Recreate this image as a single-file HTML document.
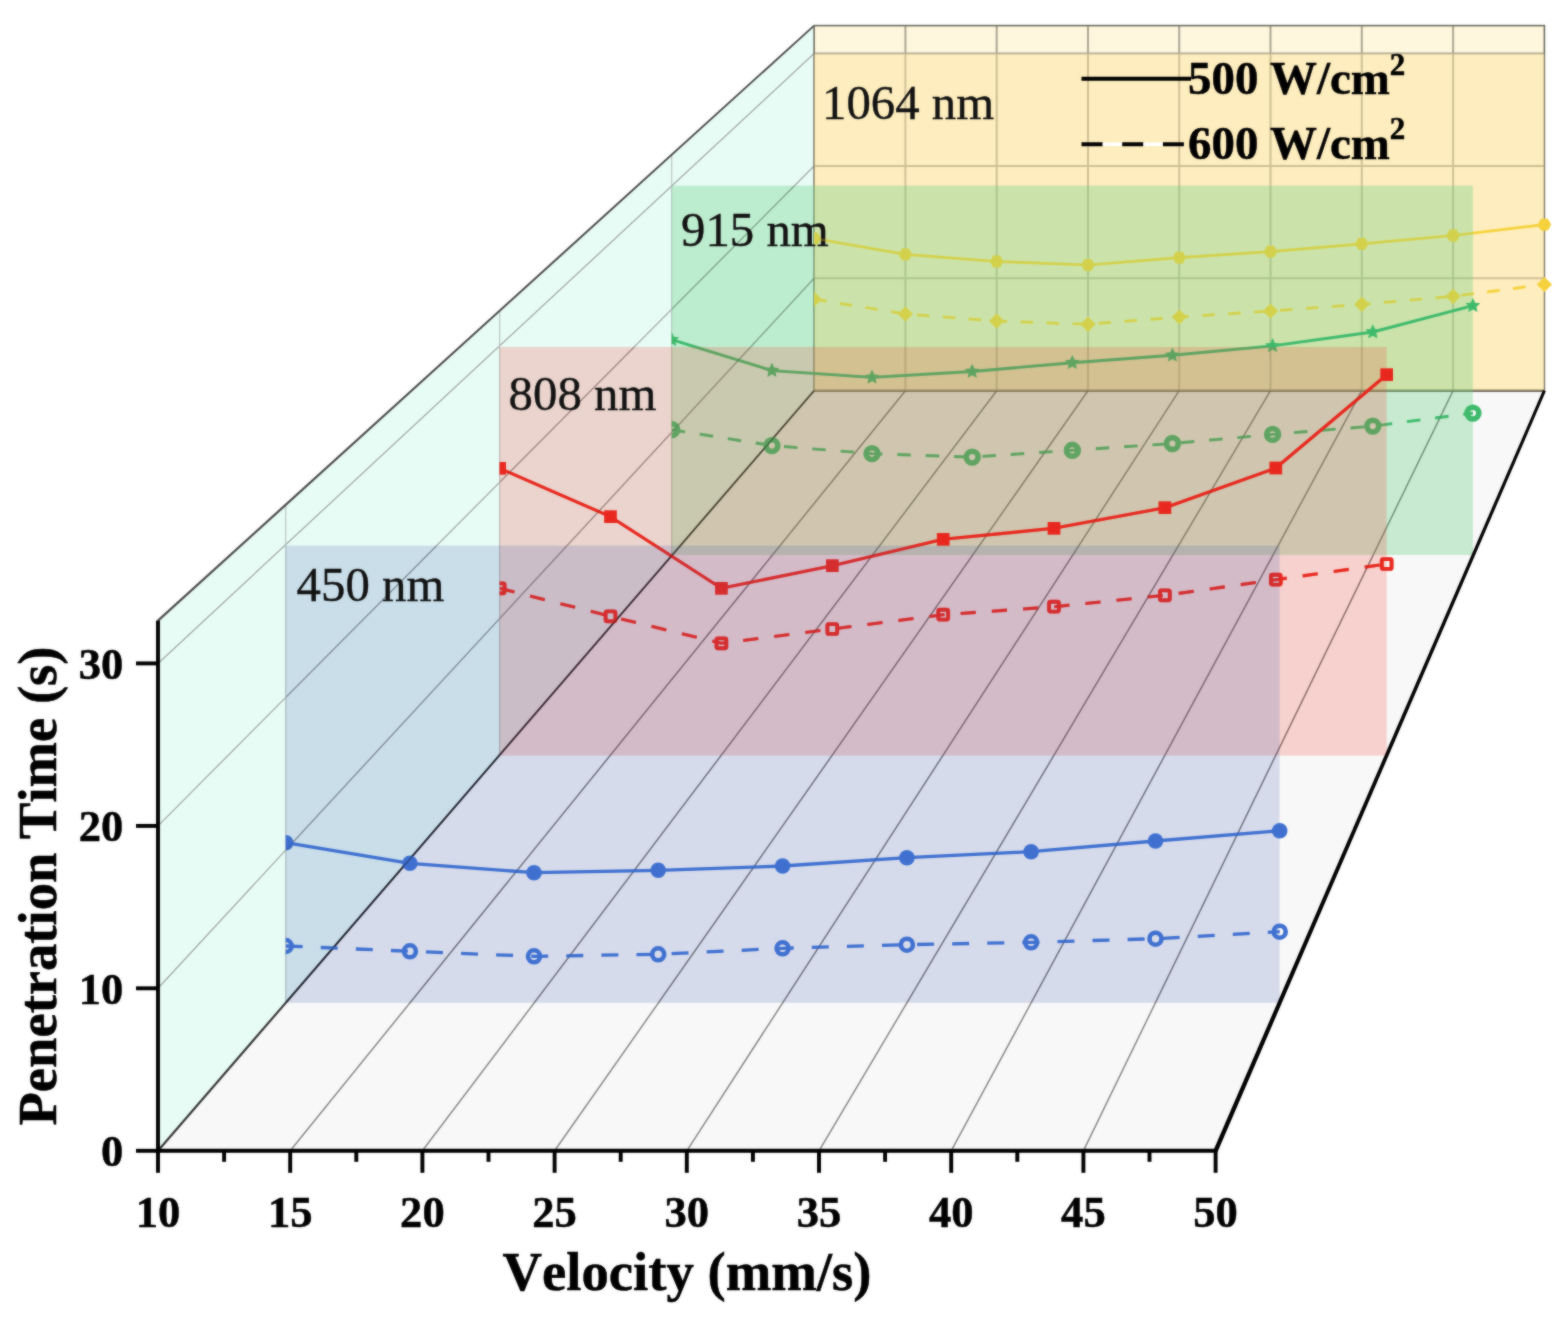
<!DOCTYPE html>
<html lang="en">
<head>
<meta charset="utf-8">
<title>Penetration Time vs Velocity</title>
<style>html,body{margin:0;padding:0;background:#fff;}body{width:1560px;height:1322px;overflow:hidden;}svg{display:block;}text{font-kerning:none;}</style>
</head>
<body>
<svg width="1560" height="1322" viewBox="0 0 1560 1322">
<defs><filter id="soft" x="0" y="0" width="100%" height="100%" filterUnits="objectBoundingBox" color-interpolation-filters="sRGB"><feGaussianBlur in="SourceGraphic" stdDeviation="1" result="b"/><feComposite in="SourceGraphic" in2="b" operator="arithmetic" k1="0" k2="0.5" k3="0.5" k4="0"/></filter></defs>
<g filter="url(#soft)">
<rect width="1560" height="1322" fill="#fff"/>
<polygon points="158.0,1150.8 158.0,620.6 814.1,25.6 814.1,390.7" fill="#e8fcf6"/>
<polygon points="158.0,1150.8 1215.6,1150.8 1544.4,390.7 814.1,390.7" fill="#f8f8f8"/>
<rect x="814.1" y="25.6" width="730.3000000000001" height="365.09999999999997" fill="#fff6de"/>
<g stroke="#8a8a8a" stroke-width="1.5" fill="none">
<line x1="290.2" y1="1150.8" x2="905.4" y2="390.7"/>
<line x1="422.4" y1="1150.8" x2="996.7" y2="390.7"/>
<line x1="554.6" y1="1150.8" x2="1088.0" y2="390.7"/>
<line x1="686.8" y1="1150.8" x2="1179.2" y2="390.7"/>
<line x1="819.0" y1="1150.8" x2="1270.5" y2="390.7"/>
<line x1="951.2" y1="1150.8" x2="1361.8" y2="390.7"/>
<line x1="1083.4" y1="1150.8" x2="1453.1" y2="390.7"/>
</g>
<g stroke="#a3a9a7" stroke-width="1.3" fill="none">
<line x1="158.0" y1="988.3" x2="814.1" y2="278.3"/>
<line x1="158.0" y1="825.9" x2="814.1" y2="166.0"/>
<line x1="158.0" y1="663.4" x2="814.1" y2="53.6"/>
</g>
<g stroke="#b9c6c3" stroke-width="1.2" fill="none">
<line x1="285.7" y1="504.8" x2="285.7" y2="1002.8"/>
<line x1="499.6" y1="310.8" x2="499.6" y2="755.6"/>
<line x1="671.7" y1="154.7" x2="671.7" y2="555.0"/>
</g>
<g stroke="#aaa693" stroke-width="2" fill="none">
<line x1="905.4" y1="25.6" x2="905.4" y2="390.7"/>
<line x1="996.7" y1="25.6" x2="996.7" y2="390.7"/>
<line x1="1088.0" y1="25.6" x2="1088.0" y2="390.7"/>
<line x1="1179.2" y1="25.6" x2="1179.2" y2="390.7"/>
<line x1="1270.5" y1="25.6" x2="1270.5" y2="390.7"/>
<line x1="1361.8" y1="25.6" x2="1361.8" y2="390.7"/>
<line x1="1453.1" y1="25.6" x2="1453.1" y2="390.7"/>
<line x1="814.1" y1="278.3" x2="1544.4" y2="278.3"/>
<line x1="814.1" y1="166.0" x2="1544.4" y2="166.0"/>
<line x1="814.1" y1="53.6" x2="1544.4" y2="53.6"/>
</g>
<polygon points="158.81,621.49 814.74,26.30 813.46,24.90 157.19,619.71" fill="#505050"/>
<polygon points="158.87,1151.55 814.74,391.26 813.46,390.14 157.13,1150.05" fill="#3c3c3c"/>
<rect x="814.1" y="25.6" width="730.3000000000001" height="365.09999999999997" fill="none" stroke="#6b6b60" stroke-width="1.6"/>
<line x1="814.1" y1="390.7" x2="1544.4" y2="390.7" stroke="#5a5548" stroke-width="2.2"/>
<rect x="814.1" y="53.6" width="730.3" height="337.1" fill="rgba(252,226,150,0.45)"/>
<clipPath id="cp-yellow"><rect x="814.1" y="0" width="1560" height="1322"/></clipPath>
<g clip-path="url(#cp-yellow)">
<polyline points="814.1,238.5 905.4,254.4 996.7,261.5 1088.0,265.0 1179.3,257.6 1270.5,251.7 1361.8,243.8 1453.1,235.5 1544.4,224.6" fill="none" stroke="#f5d23c" stroke-width="2.7" stroke-linejoin="round"/>
<polyline points="814.1,299.2 905.4,314.0 996.7,321.1 1088.0,324.3 1179.3,317.0 1270.5,311.0 1361.8,304.3 1453.1,296.3 1544.4,284.5" fill="none" stroke="#f5d23c" stroke-width="2.7" stroke-dasharray="12.5 13.5"/>
<polygon points="820.9,238.5 817.5,244.4 810.7,244.4 807.3,238.5 810.7,232.6 817.5,232.6" fill="#f5d23c"/>
<polygon points="912.2,254.4 908.8,260.3 902.0,260.3 898.6,254.4 902.0,248.5 908.8,248.5" fill="#f5d23c"/>
<polygon points="1003.5,261.5 1000.1,267.4 993.3,267.4 989.9,261.5 993.3,255.6 1000.1,255.6" fill="#f5d23c"/>
<polygon points="1094.8,265.0 1091.4,270.9 1084.6,270.9 1081.2,265.0 1084.6,259.1 1091.4,259.1" fill="#f5d23c"/>
<polygon points="1186.1,257.6 1182.7,263.5 1175.9,263.5 1172.5,257.6 1175.9,251.7 1182.7,251.7" fill="#f5d23c"/>
<polygon points="1277.3,251.7 1273.9,257.6 1267.1,257.6 1263.7,251.7 1267.1,245.8 1273.9,245.8" fill="#f5d23c"/>
<polygon points="1368.6,243.8 1365.2,249.7 1358.4,249.7 1355.0,243.8 1358.4,237.9 1365.2,237.9" fill="#f5d23c"/>
<polygon points="1459.9,235.5 1456.5,241.4 1449.7,241.4 1446.3,235.5 1449.7,229.6 1456.5,229.6" fill="#f5d23c"/>
<polygon points="1551.2,224.6 1547.8,230.5 1541.0,230.5 1537.6,224.6 1541.0,218.7 1547.8,218.7" fill="#f5d23c"/>
<polygon points="806.5,299.2 814.1,291.6 821.7,299.2 814.1,306.8" fill="#f5d23c"/>
<polygon points="897.8,314.0 905.4,306.4 913.0,314.0 905.4,321.6" fill="#f5d23c"/>
<polygon points="989.1,321.1 996.7,313.5 1004.3,321.1 996.7,328.7" fill="#f5d23c"/>
<polygon points="1080.4,324.3 1088.0,316.7 1095.6,324.3 1088.0,331.9" fill="#f5d23c"/>
<polygon points="1171.7,317.0 1179.3,309.4 1186.9,317.0 1179.3,324.6" fill="#f5d23c"/>
<polygon points="1262.9,311.0 1270.5,303.4 1278.1,311.0 1270.5,318.6" fill="#f5d23c"/>
<polygon points="1354.2,304.3 1361.8,296.7 1369.4,304.3 1361.8,311.9" fill="#f5d23c"/>
<polygon points="1445.5,296.3 1453.1,288.7 1460.7,296.3 1453.1,303.9" fill="#f5d23c"/>
<polygon points="1536.8,284.5 1544.4,276.9 1552.0,284.5 1544.4,292.1" fill="#f5d23c"/>
</g>
<text x="822.0" y="118.6" font-family="'Liberation Serif', serif" font-size="48.8" fill="#111" stroke="#111" stroke-width="0.4">1064 nm</text>
<rect x="671.7" y="185.6" width="801.2" height="369.4" fill="rgba(105,208,132,0.34)"/>
<clipPath id="cp-green"><rect x="671.7" y="0" width="1560" height="1322"/></clipPath>
<g clip-path="url(#cp-green)">
<polyline points="671.7,339.7 771.9,370.6 872.0,377.4 972.2,371.5 1072.3,362.7 1172.4,355.3 1272.6,345.9 1372.8,332.0 1472.9,305.7" fill="none" stroke="#3fba6c" stroke-width="2.9" stroke-linejoin="round"/>
<polyline points="671.7,429.7 771.9,445.6 872.0,453.6 972.2,457.1 1072.3,450.3 1172.4,443.5 1272.6,434.4 1372.8,426.1 1472.9,413.1" fill="none" stroke="#3fba6c" stroke-width="2.9" stroke-dasharray="13.5 14.9"/>
<polygon points="671.7,331.9 673.9,336.7 679.1,337.3 675.2,340.8 676.3,346.0 671.7,343.4 667.1,346.0 668.2,340.8 664.3,337.3 669.5,336.7" fill="#3fba6c"/>
<polygon points="771.9,362.8 774.1,367.6 779.3,368.2 775.4,371.7 776.5,376.9 771.9,374.3 767.3,376.9 768.4,371.7 764.5,368.2 769.7,367.6" fill="#3fba6c"/>
<polygon points="872.0,369.6 874.2,374.4 879.4,375.0 875.5,378.5 876.6,383.7 872.0,381.1 867.4,383.7 868.5,378.5 864.6,375.0 869.8,374.4" fill="#3fba6c"/>
<polygon points="972.2,363.7 974.4,368.5 979.6,369.1 975.7,372.6 976.8,377.8 972.2,375.2 967.6,377.8 968.7,372.6 964.8,369.1 970.0,368.5" fill="#3fba6c"/>
<polygon points="1072.3,354.9 1074.5,359.7 1079.7,360.3 1075.8,363.8 1076.9,369.0 1072.3,366.4 1067.7,369.0 1068.8,363.8 1064.9,360.3 1070.1,359.7" fill="#3fba6c"/>
<polygon points="1172.4,347.5 1174.6,352.3 1179.8,352.9 1175.9,356.4 1177.0,361.6 1172.4,359.0 1167.8,361.6 1168.9,356.4 1165.0,352.9 1170.2,352.3" fill="#3fba6c"/>
<polygon points="1272.6,338.1 1274.8,342.9 1280.0,343.5 1276.1,347.0 1277.2,352.2 1272.6,349.6 1268.0,352.2 1269.1,347.0 1265.2,343.5 1270.4,342.9" fill="#3fba6c"/>
<polygon points="1372.8,324.2 1375.0,329.0 1380.2,329.6 1376.3,333.1 1377.4,338.3 1372.8,335.7 1368.2,338.3 1369.3,333.1 1365.4,329.6 1370.6,329.0" fill="#3fba6c"/>
<polygon points="1472.9,297.9 1475.1,302.7 1480.3,303.3 1476.4,306.8 1477.5,312.0 1472.9,309.4 1468.3,312.0 1469.4,306.8 1465.5,303.3 1470.7,302.7" fill="#3fba6c"/>
<circle cx="671.7" cy="429.7" r="5.90" fill="none" stroke="#3fba6c" stroke-width="5.60"/>
<circle cx="771.9" cy="445.6" r="5.90" fill="none" stroke="#3fba6c" stroke-width="5.60"/>
<circle cx="872.0" cy="453.6" r="5.90" fill="none" stroke="#3fba6c" stroke-width="5.60"/>
<circle cx="972.2" cy="457.1" r="5.90" fill="none" stroke="#3fba6c" stroke-width="5.60"/>
<circle cx="1072.3" cy="450.3" r="5.90" fill="none" stroke="#3fba6c" stroke-width="5.60"/>
<circle cx="1172.4" cy="443.5" r="5.90" fill="none" stroke="#3fba6c" stroke-width="5.60"/>
<circle cx="1272.6" cy="434.4" r="5.90" fill="none" stroke="#3fba6c" stroke-width="5.60"/>
<circle cx="1372.8" cy="426.1" r="5.90" fill="none" stroke="#3fba6c" stroke-width="5.60"/>
<circle cx="1472.9" cy="413.1" r="5.90" fill="none" stroke="#3fba6c" stroke-width="5.60"/>
</g>
<text x="681.0" y="245.8" font-family="'Liberation Serif', serif" font-size="48.8" fill="#111" stroke="#111" stroke-width="0.4">915 nm</text>
<rect x="499.6" y="346.9" width="887.1" height="408.7" fill="rgba(242,66,50,0.21)"/>
<clipPath id="cp-red"><rect x="499.6" y="0" width="1560" height="1322"/></clipPath>
<g clip-path="url(#cp-red)">
<polyline points="499.7,468.3 610.5,516.7 721.4,588.3 832.3,565.7 943.2,539.3 1054.0,528.3 1164.9,507.7 1275.8,468.0 1386.7,374.7" fill="none" stroke="#e8281e" stroke-width="3.1" stroke-linejoin="round"/>
<polyline points="499.7,588.3 610.5,616.3 721.4,643.3 832.3,629.0 943.2,614.7 1054.0,606.7 1164.9,595.3 1275.8,579.7 1386.7,564.0" fill="none" stroke="#e8281e" stroke-width="3.1" stroke-dasharray="15.2 16.1"/>
<rect x="493.40" y="462.00" width="12.60" height="12.60" fill="#e8281e"/>
<rect x="604.20" y="510.40" width="12.60" height="12.60" fill="#e8281e"/>
<rect x="715.10" y="582.00" width="12.60" height="12.60" fill="#e8281e"/>
<rect x="826.00" y="559.40" width="12.60" height="12.60" fill="#e8281e"/>
<rect x="936.90" y="533.00" width="12.60" height="12.60" fill="#e8281e"/>
<rect x="1047.70" y="522.00" width="12.60" height="12.60" fill="#e8281e"/>
<rect x="1158.60" y="501.40" width="12.60" height="12.60" fill="#e8281e"/>
<rect x="1269.50" y="461.70" width="12.60" height="12.60" fill="#e8281e"/>
<rect x="1380.40" y="368.40" width="12.60" height="12.60" fill="#e8281e"/>
<rect x="494.80" y="583.40" width="9.80" height="9.80" rx="1.5" fill="none" stroke="#e8281e" stroke-width="3.90"/>
<rect x="605.60" y="611.40" width="9.80" height="9.80" rx="1.5" fill="none" stroke="#e8281e" stroke-width="3.90"/>
<rect x="716.50" y="638.40" width="9.80" height="9.80" rx="1.5" fill="none" stroke="#e8281e" stroke-width="3.90"/>
<rect x="827.40" y="624.10" width="9.80" height="9.80" rx="1.5" fill="none" stroke="#e8281e" stroke-width="3.90"/>
<rect x="938.30" y="609.80" width="9.80" height="9.80" rx="1.5" fill="none" stroke="#e8281e" stroke-width="3.90"/>
<rect x="1049.10" y="601.80" width="9.80" height="9.80" rx="1.5" fill="none" stroke="#e8281e" stroke-width="3.90"/>
<rect x="1160.00" y="590.40" width="9.80" height="9.80" rx="1.5" fill="none" stroke="#e8281e" stroke-width="3.90"/>
<rect x="1270.90" y="574.80" width="9.80" height="9.80" rx="1.5" fill="none" stroke="#e8281e" stroke-width="3.90"/>
<rect x="1381.80" y="559.10" width="9.80" height="9.80" rx="1.5" fill="none" stroke="#e8281e" stroke-width="3.90"/>
</g>
<text x="508.6" y="409.6" font-family="'Liberation Serif', serif" font-size="48.8" fill="#111" stroke="#111" stroke-width="0.4">808 nm</text>
<rect x="285.7" y="545.6" width="993.9" height="457.2" fill="rgba(60,90,175,0.18)"/>
<clipPath id="cp-blue"><rect x="285.7" y="0" width="1560" height="1322"/></clipPath>
<g clip-path="url(#cp-blue)">
<polyline points="285.7,842.7 409.9,863.3 534.0,872.7 658.2,870.3 782.6,866.0 906.9,857.7 1031.1,851.7 1155.5,841.0 1279.7,830.7" fill="none" stroke="#3f70d0" stroke-width="3.3" stroke-linejoin="round"/>
<polyline points="285.7,946.0 409.9,951.3 534.0,956.3 658.2,954.3 782.6,948.3 906.9,944.7 1031.1,942.3 1155.5,938.7 1279.7,931.7" fill="none" stroke="#3f70d0" stroke-width="3.3" stroke-dasharray="17 18.1"/>
<circle cx="285.7" cy="842.7" r="7.80" fill="#3f70d0"/>
<circle cx="409.9" cy="863.3" r="7.80" fill="#3f70d0"/>
<circle cx="534.0" cy="872.7" r="7.80" fill="#3f70d0"/>
<circle cx="658.2" cy="870.3" r="7.80" fill="#3f70d0"/>
<circle cx="782.6" cy="866.0" r="7.80" fill="#3f70d0"/>
<circle cx="906.9" cy="857.7" r="7.80" fill="#3f70d0"/>
<circle cx="1031.1" cy="851.7" r="7.80" fill="#3f70d0"/>
<circle cx="1155.5" cy="841.0" r="7.80" fill="#3f70d0"/>
<circle cx="1279.7" cy="830.7" r="7.80" fill="#3f70d0"/>
<circle cx="285.7" cy="946.0" r="6.00" fill="none" stroke="#3f70d0" stroke-width="4.60"/>
<circle cx="409.9" cy="951.3" r="6.00" fill="none" stroke="#3f70d0" stroke-width="4.60"/>
<circle cx="534.0" cy="956.3" r="6.00" fill="none" stroke="#3f70d0" stroke-width="4.60"/>
<circle cx="658.2" cy="954.3" r="6.00" fill="none" stroke="#3f70d0" stroke-width="4.60"/>
<circle cx="782.6" cy="948.3" r="6.00" fill="none" stroke="#3f70d0" stroke-width="4.60"/>
<circle cx="906.9" cy="944.7" r="6.00" fill="none" stroke="#3f70d0" stroke-width="4.60"/>
<circle cx="1031.1" cy="942.3" r="6.00" fill="none" stroke="#3f70d0" stroke-width="4.60"/>
<circle cx="1155.5" cy="938.7" r="6.00" fill="none" stroke="#3f70d0" stroke-width="4.60"/>
<circle cx="1279.7" cy="931.7" r="6.00" fill="none" stroke="#3f70d0" stroke-width="4.60"/>
</g>
<text x="296.6" y="601.4" font-family="'Liberation Serif', serif" font-size="48.8" fill="#111" stroke="#111" stroke-width="0.4">450 nm</text>
<g clip-path="url(#cp-yellow)" opacity="0.3">
<polyline points="814.1,238.5 905.4,254.4 996.7,261.5 1088.0,265.0 1179.3,257.6 1270.5,251.7 1361.8,243.8 1453.1,235.5 1544.4,224.6" fill="none" stroke="#f5d23c" stroke-width="2.7" stroke-linejoin="round"/>
<polyline points="814.1,299.2 905.4,314.0 996.7,321.1 1088.0,324.3 1179.3,317.0 1270.5,311.0 1361.8,304.3 1453.1,296.3 1544.4,284.5" fill="none" stroke="#f5d23c" stroke-width="2.7" stroke-dasharray="12.5 13.5"/>
<polygon points="820.9,238.5 817.5,244.4 810.7,244.4 807.3,238.5 810.7,232.6 817.5,232.6" fill="#f5d23c"/>
<polygon points="912.2,254.4 908.8,260.3 902.0,260.3 898.6,254.4 902.0,248.5 908.8,248.5" fill="#f5d23c"/>
<polygon points="1003.5,261.5 1000.1,267.4 993.3,267.4 989.9,261.5 993.3,255.6 1000.1,255.6" fill="#f5d23c"/>
<polygon points="1094.8,265.0 1091.4,270.9 1084.6,270.9 1081.2,265.0 1084.6,259.1 1091.4,259.1" fill="#f5d23c"/>
<polygon points="1186.1,257.6 1182.7,263.5 1175.9,263.5 1172.5,257.6 1175.9,251.7 1182.7,251.7" fill="#f5d23c"/>
<polygon points="1277.3,251.7 1273.9,257.6 1267.1,257.6 1263.7,251.7 1267.1,245.8 1273.9,245.8" fill="#f5d23c"/>
<polygon points="1368.6,243.8 1365.2,249.7 1358.4,249.7 1355.0,243.8 1358.4,237.9 1365.2,237.9" fill="#f5d23c"/>
<polygon points="1459.9,235.5 1456.5,241.4 1449.7,241.4 1446.3,235.5 1449.7,229.6 1456.5,229.6" fill="#f5d23c"/>
<polygon points="1551.2,224.6 1547.8,230.5 1541.0,230.5 1537.6,224.6 1541.0,218.7 1547.8,218.7" fill="#f5d23c"/>
<polygon points="806.5,299.2 814.1,291.6 821.7,299.2 814.1,306.8" fill="#f5d23c"/>
<polygon points="897.8,314.0 905.4,306.4 913.0,314.0 905.4,321.6" fill="#f5d23c"/>
<polygon points="989.1,321.1 996.7,313.5 1004.3,321.1 996.7,328.7" fill="#f5d23c"/>
<polygon points="1080.4,324.3 1088.0,316.7 1095.6,324.3 1088.0,331.9" fill="#f5d23c"/>
<polygon points="1171.7,317.0 1179.3,309.4 1186.9,317.0 1179.3,324.6" fill="#f5d23c"/>
<polygon points="1262.9,311.0 1270.5,303.4 1278.1,311.0 1270.5,318.6" fill="#f5d23c"/>
<polygon points="1354.2,304.3 1361.8,296.7 1369.4,304.3 1361.8,311.9" fill="#f5d23c"/>
<polygon points="1445.5,296.3 1453.1,288.7 1460.7,296.3 1453.1,303.9" fill="#f5d23c"/>
<polygon points="1536.8,284.5 1544.4,276.9 1552.0,284.5 1544.4,292.1" fill="#f5d23c"/>
</g>
<g clip-path="url(#cp-green)" opacity="0.12">
<polyline points="671.7,339.7 771.9,370.6 872.0,377.4 972.2,371.5 1072.3,362.7 1172.4,355.3 1272.6,345.9 1372.8,332.0 1472.9,305.7" fill="none" stroke="#3fba6c" stroke-width="2.9" stroke-linejoin="round"/>
<polyline points="671.7,429.7 771.9,445.6 872.0,453.6 972.2,457.1 1072.3,450.3 1172.4,443.5 1272.6,434.4 1372.8,426.1 1472.9,413.1" fill="none" stroke="#3fba6c" stroke-width="2.9" stroke-dasharray="13.5 14.9"/>
<polygon points="671.7,331.9 673.9,336.7 679.1,337.3 675.2,340.8 676.3,346.0 671.7,343.4 667.1,346.0 668.2,340.8 664.3,337.3 669.5,336.7" fill="#3fba6c"/>
<polygon points="771.9,362.8 774.1,367.6 779.3,368.2 775.4,371.7 776.5,376.9 771.9,374.3 767.3,376.9 768.4,371.7 764.5,368.2 769.7,367.6" fill="#3fba6c"/>
<polygon points="872.0,369.6 874.2,374.4 879.4,375.0 875.5,378.5 876.6,383.7 872.0,381.1 867.4,383.7 868.5,378.5 864.6,375.0 869.8,374.4" fill="#3fba6c"/>
<polygon points="972.2,363.7 974.4,368.5 979.6,369.1 975.7,372.6 976.8,377.8 972.2,375.2 967.6,377.8 968.7,372.6 964.8,369.1 970.0,368.5" fill="#3fba6c"/>
<polygon points="1072.3,354.9 1074.5,359.7 1079.7,360.3 1075.8,363.8 1076.9,369.0 1072.3,366.4 1067.7,369.0 1068.8,363.8 1064.9,360.3 1070.1,359.7" fill="#3fba6c"/>
<polygon points="1172.4,347.5 1174.6,352.3 1179.8,352.9 1175.9,356.4 1177.0,361.6 1172.4,359.0 1167.8,361.6 1168.9,356.4 1165.0,352.9 1170.2,352.3" fill="#3fba6c"/>
<polygon points="1272.6,338.1 1274.8,342.9 1280.0,343.5 1276.1,347.0 1277.2,352.2 1272.6,349.6 1268.0,352.2 1269.1,347.0 1265.2,343.5 1270.4,342.9" fill="#3fba6c"/>
<polygon points="1372.8,324.2 1375.0,329.0 1380.2,329.6 1376.3,333.1 1377.4,338.3 1372.8,335.7 1368.2,338.3 1369.3,333.1 1365.4,329.6 1370.6,329.0" fill="#3fba6c"/>
<polygon points="1472.9,297.9 1475.1,302.7 1480.3,303.3 1476.4,306.8 1477.5,312.0 1472.9,309.4 1468.3,312.0 1469.4,306.8 1465.5,303.3 1470.7,302.7" fill="#3fba6c"/>
<circle cx="671.7" cy="429.7" r="5.90" fill="none" stroke="#3fba6c" stroke-width="5.60"/>
<circle cx="771.9" cy="445.6" r="5.90" fill="none" stroke="#3fba6c" stroke-width="5.60"/>
<circle cx="872.0" cy="453.6" r="5.90" fill="none" stroke="#3fba6c" stroke-width="5.60"/>
<circle cx="972.2" cy="457.1" r="5.90" fill="none" stroke="#3fba6c" stroke-width="5.60"/>
<circle cx="1072.3" cy="450.3" r="5.90" fill="none" stroke="#3fba6c" stroke-width="5.60"/>
<circle cx="1172.4" cy="443.5" r="5.90" fill="none" stroke="#3fba6c" stroke-width="5.60"/>
<circle cx="1272.6" cy="434.4" r="5.90" fill="none" stroke="#3fba6c" stroke-width="5.60"/>
<circle cx="1372.8" cy="426.1" r="5.90" fill="none" stroke="#3fba6c" stroke-width="5.60"/>
<circle cx="1472.9" cy="413.1" r="5.90" fill="none" stroke="#3fba6c" stroke-width="5.60"/>
</g>
<g clip-path="url(#cp-red)" opacity="0.4">
<polyline points="499.7,468.3 610.5,516.7 721.4,588.3 832.3,565.7 943.2,539.3 1054.0,528.3 1164.9,507.7 1275.8,468.0 1386.7,374.7" fill="none" stroke="#e8281e" stroke-width="3.1" stroke-linejoin="round"/>
<polyline points="499.7,588.3 610.5,616.3 721.4,643.3 832.3,629.0 943.2,614.7 1054.0,606.7 1164.9,595.3 1275.8,579.7 1386.7,564.0" fill="none" stroke="#e8281e" stroke-width="3.1" stroke-dasharray="15.2 16.1"/>
<rect x="493.40" y="462.00" width="12.60" height="12.60" fill="#e8281e"/>
<rect x="604.20" y="510.40" width="12.60" height="12.60" fill="#e8281e"/>
<rect x="715.10" y="582.00" width="12.60" height="12.60" fill="#e8281e"/>
<rect x="826.00" y="559.40" width="12.60" height="12.60" fill="#e8281e"/>
<rect x="936.90" y="533.00" width="12.60" height="12.60" fill="#e8281e"/>
<rect x="1047.70" y="522.00" width="12.60" height="12.60" fill="#e8281e"/>
<rect x="1158.60" y="501.40" width="12.60" height="12.60" fill="#e8281e"/>
<rect x="1269.50" y="461.70" width="12.60" height="12.60" fill="#e8281e"/>
<rect x="1380.40" y="368.40" width="12.60" height="12.60" fill="#e8281e"/>
<rect x="494.80" y="583.40" width="9.80" height="9.80" rx="1.5" fill="none" stroke="#e8281e" stroke-width="3.90"/>
<rect x="605.60" y="611.40" width="9.80" height="9.80" rx="1.5" fill="none" stroke="#e8281e" stroke-width="3.90"/>
<rect x="716.50" y="638.40" width="9.80" height="9.80" rx="1.5" fill="none" stroke="#e8281e" stroke-width="3.90"/>
<rect x="827.40" y="624.10" width="9.80" height="9.80" rx="1.5" fill="none" stroke="#e8281e" stroke-width="3.90"/>
<rect x="938.30" y="609.80" width="9.80" height="9.80" rx="1.5" fill="none" stroke="#e8281e" stroke-width="3.90"/>
<rect x="1049.10" y="601.80" width="9.80" height="9.80" rx="1.5" fill="none" stroke="#e8281e" stroke-width="3.90"/>
<rect x="1160.00" y="590.40" width="9.80" height="9.80" rx="1.5" fill="none" stroke="#e8281e" stroke-width="3.90"/>
<rect x="1270.90" y="574.80" width="9.80" height="9.80" rx="1.5" fill="none" stroke="#e8281e" stroke-width="3.90"/>
<rect x="1381.80" y="559.10" width="9.80" height="9.80" rx="1.5" fill="none" stroke="#e8281e" stroke-width="3.90"/>
</g>
<clipPath id="cp-planes">
<rect x="814.1" y="53.6" width="730.3" height="337.1"/>
<rect x="671.7" y="185.6" width="801.2" height="369.4"/>
<rect x="499.6" y="346.9" width="887.1" height="408.7"/>
<rect x="285.7" y="545.6" width="993.9" height="457.2"/>
</clipPath>
<g clip-path="url(#cp-planes)" stroke="#000" stroke-opacity="0.10" stroke-width="1.4" fill="none">
<line x1="290.2" y1="1150.8" x2="905.4" y2="390.7"/>
<line x1="422.4" y1="1150.8" x2="996.7" y2="390.7"/>
<line x1="554.6" y1="1150.8" x2="1088.0" y2="390.7"/>
<line x1="686.8" y1="1150.8" x2="1179.2" y2="390.7"/>
<line x1="819.0" y1="1150.8" x2="1270.5" y2="390.7"/>
<line x1="951.2" y1="1150.8" x2="1361.8" y2="390.7"/>
<line x1="1083.4" y1="1150.8" x2="1453.1" y2="390.7"/>
<line x1="158.0" y1="988.3" x2="814.1" y2="278.3"/>
<line x1="158.0" y1="825.9" x2="814.1" y2="166.0"/>
<line x1="158.0" y1="663.4" x2="814.1" y2="53.6"/>
<line x1="158.0" y1="1150.8" x2="814.1" y2="390.7" stroke-width="1.8" stroke-opacity="0.3"/>
</g>
<polygon points="1217.62,1151.67 1545.78,391.30 1543.02,390.10 1213.58,1149.93" fill="#000"/>
<g stroke="#000" stroke-width="3.9" fill="none" stroke-linecap="butt">
<line x1="158.0" y1="620.6" x2="158.0" y2="1152.6"/>
<line x1="156.2" y1="1150.8" x2="1217.3999999999999" y2="1150.8"/>
<line x1="158.0" y1="1150.8" x2="158.0" y2="1172.8"/>
<line x1="290.2" y1="1150.8" x2="290.2" y2="1172.8"/>
<line x1="422.4" y1="1150.8" x2="422.4" y2="1172.8"/>
<line x1="554.6" y1="1150.8" x2="554.6" y2="1172.8"/>
<line x1="686.8" y1="1150.8" x2="686.8" y2="1172.8"/>
<line x1="819.0" y1="1150.8" x2="819.0" y2="1172.8"/>
<line x1="951.2" y1="1150.8" x2="951.2" y2="1172.8"/>
<line x1="1083.4" y1="1150.8" x2="1083.4" y2="1172.8"/>
<line x1="1215.6" y1="1150.8" x2="1215.6" y2="1172.8"/>
<line x1="224.1" y1="1150.8" x2="224.1" y2="1161.8"/>
<line x1="356.3" y1="1150.8" x2="356.3" y2="1161.8"/>
<line x1="488.5" y1="1150.8" x2="488.5" y2="1161.8"/>
<line x1="620.7" y1="1150.8" x2="620.7" y2="1161.8"/>
<line x1="752.9" y1="1150.8" x2="752.9" y2="1161.8"/>
<line x1="885.1" y1="1150.8" x2="885.1" y2="1161.8"/>
<line x1="1017.3" y1="1150.8" x2="1017.3" y2="1161.8"/>
<line x1="1149.5" y1="1150.8" x2="1149.5" y2="1161.8"/>
<line x1="136.0" y1="1150.8" x2="158.0" y2="1150.8"/>
<line x1="136.0" y1="988.3" x2="158.0" y2="988.3"/>
<line x1="136.0" y1="825.9" x2="158.0" y2="825.9"/>
<line x1="136.0" y1="663.4" x2="158.0" y2="663.4"/>
</g>
<g font-family="'Liberation Serif', serif" font-weight="bold" font-size="44.6" fill="#000" stroke="#000" stroke-width="0.5" text-anchor="middle">
<text x="158.0" y="1227.2">10</text>
<text x="290.2" y="1227.2">15</text>
<text x="422.4" y="1227.2">20</text>
<text x="554.6" y="1227.2">25</text>
<text x="686.8" y="1227.2">30</text>
<text x="819.0" y="1227.2">35</text>
<text x="951.2" y="1227.2">40</text>
<text x="1083.4" y="1227.2">45</text>
<text x="1215.6" y="1227.2">50</text>
</g>
<g font-family="'Liberation Serif', serif" font-weight="bold" font-size="44.6" fill="#000" stroke="#000" stroke-width="0.5" text-anchor="end">
<text x="123.3" y="1166.0">0</text>
<text x="123.3" y="1003.5">10</text>
<text x="123.3" y="841.1">20</text>
<text x="123.3" y="678.6">30</text>
</g>
<text x="687" y="1289.8" text-anchor="middle" font-family="'Liberation Serif', serif" font-weight="bold" font-size="54.7" fill="#000" stroke="#000" stroke-width="0.5">Velocity (mm/s)</text>
<text transform="translate(56,886) rotate(-90)" text-anchor="middle" font-family="'Liberation Serif', serif" font-weight="bold" font-size="54.6" fill="#000" stroke="#000" stroke-width="0.5">Penetration Time (s)</text>
<line x1="1081.5" y1="78.7" x2="1191" y2="78.7" stroke="#000" stroke-width="4"/>
<line x1="1081.5" y1="144.3" x2="1184" y2="144.3" stroke="#fff" stroke-width="3.4"/>
<line x1="1081.5" y1="144.3" x2="1184" y2="144.3" stroke="#000" stroke-width="4" stroke-dasharray="21 19.7"/>
<text x="1188" y="94.3" font-family="'Liberation Serif', serif" font-weight="bold" font-size="46.9" fill="#000" stroke="#000" stroke-width="0.5">500 W/cm<tspan dy="-19.5" font-size="31">2</tspan></text>
<text x="1188" y="158.9" font-family="'Liberation Serif', serif" font-weight="bold" font-size="46.9" fill="#000" stroke="#000" stroke-width="0.5">600 W/cm<tspan dy="-19.5" font-size="31">2</tspan></text>
</g>
</svg>
</body>
</html>
